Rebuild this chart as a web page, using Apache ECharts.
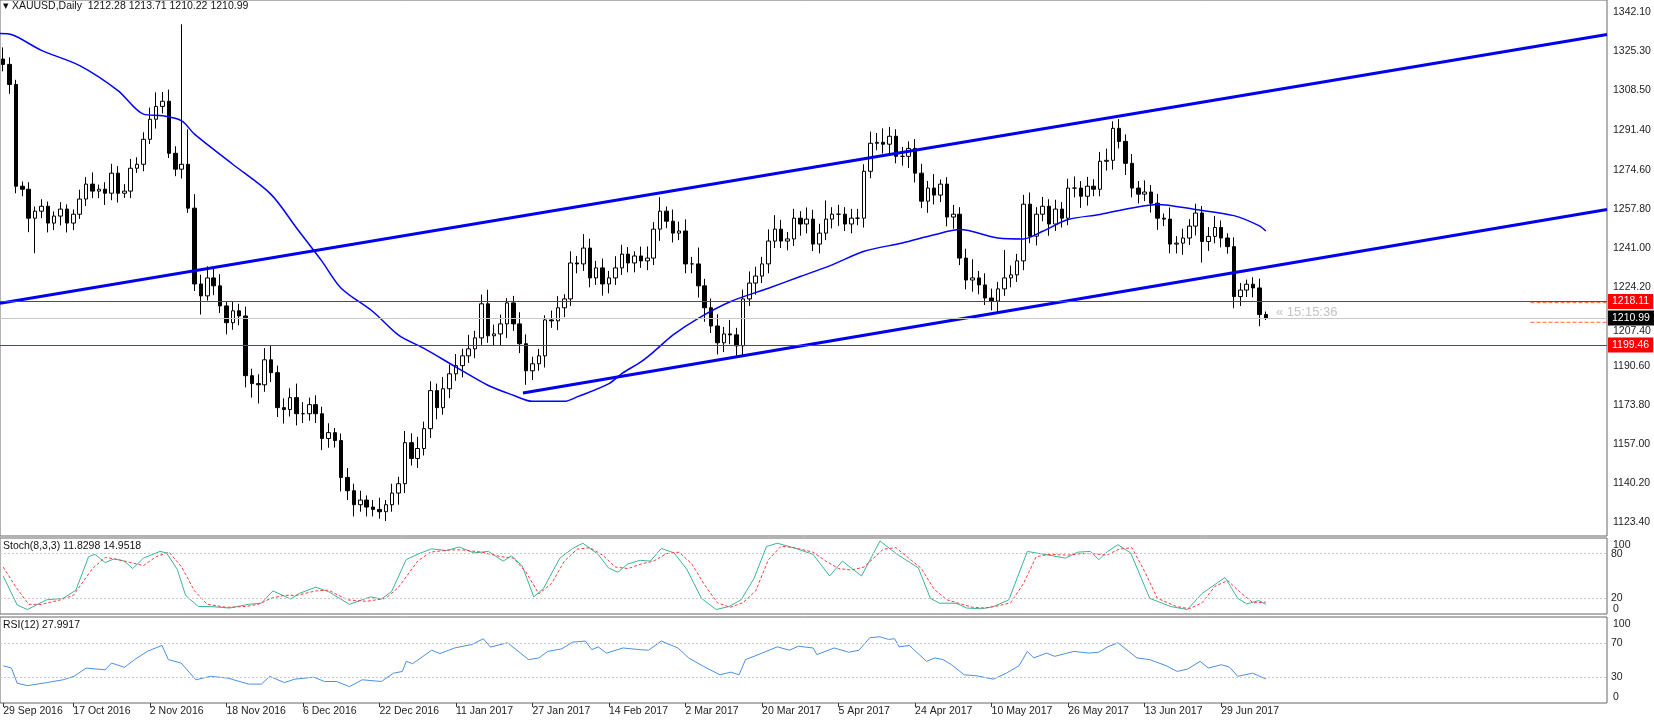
<!DOCTYPE html>
<html>
<head>
<meta charset="utf-8">
<script src="https://cdn.jsdelivr.net/npm/echarts@6/dist/echarts.min.js"></script>
<style>
  html, body { margin: 0; padding: 0; background: #fff; }
  #chart { width: 1654px; height: 720px; }
</style>
</head>
<body>
<div id="chart"></div>
<script>
// daily closes, XAUUSD (first bar opened at 1322)
const firstOpen = 1322;
const closes = [
  1319.7,1311.1,1267.5,1266.2,1253.8,1256.8,1258.9,1251.7,1254.7,1257.7,
  1251.7,1255.5,1262.0,1268.4,1265.4,1266.2,1264.5,1273.1,1264.5,1265.4,
  1275.2,1276.9,1287.6,1296.2,1301.7,1303.9,1281.6,1274.8,1276.9,1258.1,
  1225.6,1220.5,1228.2,1224.8,1216.2,1209.0,1214.1,1211.9,1186.3,1182.9,
  1182.4,1193.1,1187.6,1172.6,1171.8,1176.9,1170.0,1170.0,
  1173.9,1170.0,1159.4,1161.9,1158.5,1142.7,1137,1131,1133,1130,
  1129,1128,1131,1136,1140,1157.6,1150.8,1155.1,1163.6,1179.9,
  1172.6,1180.7,1187.1,1190.6,1194.8,1197.8,1202.5,1217.1,1203.4,1204.2,
  1208.5,1217.5,1208.5,1200.0,1188.4,1191.4,1194.8,1210.2,1209.8,1215.4,
  1219.2,1234.6,1234.2,1241.0,1228.2,1232.5,1225.6,
  1228.2,1232.5,1238.4,1234.6,1237.6,1235.5,1236.7,1249.1,1256.8,1252.5,
  1247.4,1248.3,1234.2,1234.2,1224.8,1215.4,1207.6,1200.4,1204.2,1203.8,
  1199.1,1219.2,1226.0,1229.0,1234.2,1244.0,1249.1,1244.0,1244.9,1253.8,
  1251.3,1253.4,1242.7,1247.4,1253.4,1255.5,1255.5,1251.3,1253.8,1253.8,
  1273.9,1285.9,1286.3,1285.5,1288.9,1280.3,1280.3,
  1283.7,1273.1,1261.1,1266.7,1263.7,1268.4,1254.3,1255.5,1236.7,1227.3,
  1228.2,1225.2,1219.6,1218.3,1223.5,1228.2,1229.5,1235.5,1259.8,1246.1,
  1255.5,1258.9,1251.3,1257.7,1253.8,1266.7,1266.7,1263.2,1267.5,1266.2,
  1278.2,1278.6,1292.3,1286.7,1277.3,1266.7,1264.1,1265.0,1260.2,1253.8,
  1253.4,1242.7,1243.1,1245.3,1250.4,1256.0,
  1243.8,1246.0,1249.8,1245.3,1241.6,1220.2,1223.0,1225.5,1223.9,1212.5,1210.99
];
// upper / lower shadow length above/below the body
const wickHi = [
  5,3,2,2,3,2,3,2,2,3, 2,2,4,3,5,2,3,4,3,3, 4,3,3,5,6,4,5,3,60,15,
  6,4,5,4,5,2,4,3,4,3, 4,5,6,3,4,4,6,5,3,4, 3,4,2,3,4,3,4,2,3,5,
  2,4,3,5,4,5,3,4,3,5, 4,5,3,6,3,4,6,4,4,2, 3,5,4,3,3,2,4,5,2,5,
  3,6,4,3,4,3,5,4,3,2, 4,5,3,6,2,5,4,5,3,7, 3,4,5,3,6,3,4,5,4,3,
  5,6,4,3,4,3,5,4,4,8, 3,4,3,4,4,3,5,4,6,4, 3,4,3,4,4,3,6,2,3,4,
  3,4,8,3,5,4,3,12,4,3, 4,5,3,4,3,4,3,4,5,3, 4,3,4,5,3,4,3,4,3,5,
  3,4,2,5,3,4,3,4,3,4, 5,3,2,4,3,2,3,4,1.3
];
const wickLo = [
  3,4,3,3,6,15,3,4,3,4, 4,3,2,3,3,3,5,3,4,2, 3,2,3,2,4,3,2,3,4,2,
  3,8,2,4,3,5,3,4,5,6, 8,3,4,4,6,3,5,4,3,4, 5,4,3,6,4,5,3,4,3,3,
  4,3,5,4,3,4,3,4,5,3, 4,3,5,3,4,3,3,4,5,6, 3,4,6,4,3,5,3,4,4,3,
  4,3,4,3,5,4,3,3,4,4, 3,4,3,5,3,4,3,4,4,5, 6,3,5,4,4,5,4,3,5,3,
  4,3,3,4,3,5,4,3,4,3, 4,5,3,4,3,4,3,3,4,5, 3,4,5,4,3,5,4,3,4,5,
  3,4,5,4,3,4,5,3,4,3, 4,3,4,3,5,3,4,3,4,5, 4,3,3,4,4,3,5,4,4,3,
  4,5,3,4,4,5,3,4,9,4, 3,4,3,5,4,3,4,5,0.8
];
// moving average [bar index, value]
const maPts = [
  [-0.5,1332.9],[1.4,1332.4],[6,1325.7],[12,1319.2],[18,1308.5],[22,1298.4],[25,1297.7],
  [28,1295.5],[30,1289.8],[36,1276.9],[42,1264],[46,1249.6],[50,1235.3],[53,1223.8],
  [58,1213.7],[62,1203.7],[66,1198],[71,1190],[76,1182.2],[80,1177.9],[83,1175.3],
  [88,1175.3],[90,1177.2],[95,1182.9],[97,1187.2],[100,1192.2],[102,1196.5],[105,1203.7],
  [109,1210.9],[114,1218],[120,1223.8],[125,1228.8],[130,1233.8],[135,1239.6],[141,1243.2],
  [146,1246.7],[150,1248.9],[156,1245.3],[160,1244.9],[163,1248.2],[167,1253.2],[172,1255.4],
  [177,1258.2],[181,1259.7],[187,1257.5],[193,1254.9],[197,1250.5],[198,1248.3]
];
const upperTrend = [[-0.5,1217.3],[251.5,1332.5]];
const lowerTrend = [[81.5,1178.9],[251.5,1257.5]];
const redLevels = [1218.11, 1199.46];
const lastPrice = 1210.99;
const priceTicks = [1342.10,1325.30,1308.50,1291.40,1274.60,1257.80,1241.00,1224.20,1207.40,1190.60,1173.80,1157.00,1140.20,1123.40];
// stochastic %K and %D [bar index, value]
const stochK = [
  [0,50],[2.2,11],[3.8,5],[6.8,18],[9.4,20],[11.4,31],[13.4,76],[14.4,79],[16,68],[17.4,73],
  [19,70],[20.3,60],[22,74],[24.6,83],[25.6,81],[27.3,59],[28.6,24],[30.6,9],[32.5,9],[35.5,7],
  [38.5,12],[40.5,13.5],[42.3,30],[45.1,19],[46.4,26.5],[49,35],[51,29],[54.3,12],[57.6,22],[59.3,19],
  [60.9,29],[63.2,72],[65.2,80],[67.2,86.5],[69.5,84],[71.5,89],[73.8,81],[76.1,83],[78.4,70],[79.7,77],
  [81.4,63.5],[83.2,22],[84.7,33],[87.3,74],[89.3,87],[90.9,94],[93.3,79],[94.9,61],[96.4,55],[97.9,66],
  [99.9,71],[101.5,70],[103.2,87],[105.2,81],[107.2,59],[109.5,20],[111.8,5],[113.8,9],[115.7,18],[117.7,46],
  [119.7,89.6],[121.4,94],[124.3,87],[127,79],[129.6,50],[131.6,70],[134.6,50],[137.5,97],[140.2,79],[143.5,61],
  [145.4,20],[146.8,13.5],[149.4,13.5],[151.1,7],[153.4,6],[155.3,9],[157.7,18],[160.6,83],[163.3,79],[166.6,74],
  [168.5,82],[170.5,83],[171.8,72],[173.2,83],[174.8,92],[176.8,81],[179.8,20],[183.1,9],[185.7,5],[188,26.5],
  [191.6,48],[193.6,20],[195,12.6],[196.9,17],[198,11.83]
];
const stochD = [
  [0,62],[2,35],[4,12],[6,12],[9,18],[11,24],[14,60],[16,75],[18,72],[20,68],[22,64],[24,76],[26,82],
  [28,62],[30,30],[32,12],[35,8],[38,9],[40,12],[42,20],[44,24],[46,24],[49,30],[51,31],[54,18],[57,16],
  [60,20],[62,35],[65,70],[67,82],[70,85],[72,85],[75,82],[78,76],[80,74],[82,55],[84,26],[86,40],[88,70],
  [90,86],[92,88],[94,78],[96,62],[98,60],[100,66],[102,70],[104,80],[106,82],[108,66],[110,38],[112,14],
  [114,8],[116,14],[118,30],[120,72],[122,90],[124,88],[127,82],[129,70],[131,60],[133,58],[135,62],[138,86],
  [140,88],[142,74],[144,60],[146,32],[148,18],[150,13],[152,8],[154,7],[156,10],[158,14],[160,40],[162,76],
  [164,79],[167,78],[169,80],[171,80],[173,78],[175,86],[177,88],[179,56],[181,20],[184,9],[186,6],[188,14],
  [190,36],[192,44],[194,28],[196,14],[198,14.95]
];
// RSI(12) [bar index, value]
const rsi = [
  [0,43.3],[1.3,40.6],[2.2,23],[3.8,20.2],[6.8,23.7],[9.4,27],[11.1,31],[13,40.6],[16,38.6],[17,46.5],
  [19,41.4],[20.6,50.4],[22.6,60],[24.9,67],[25.9,50.4],[27.9,46.5],[30.2,27],[32.5,31],[35.2,29],[38.5,22],
  [40.5,22],[41.8,31],[44.1,23.7],[45.7,27.7],[48.7,30],[50.4,25],[52.3,25],[54.3,19],[56.3,27],[59.3,25],
  [61.2,34.7],[62.6,36.7],[63.2,48.4],[64.2,45.7],[67.2,61.4],[68.5,57.5],[70.8,64],[73.5,68],[75.3,74.7],[76.4,65],
  [79.1,70],[82.4,50.4],[84,52.4],[85.4,60],[87.6,63],[89.3,70.8],[91.3,72],[92.3,62],[93.3,65.3],[94.6,58],
  [97.2,64],[99.9,62],[101.2,61.4],[103.2,72],[105.8,64],[107.5,52.4],[109.8,42.6],[112.4,32.8],[114.1,35.9],[115.4,32.8],
  [116.4,50.4],[119,58],[121.4,65.3],[123.3,61.4],[124.7,66],[127,64],[127.6,56.3],[130.3,64],[132.6,59],[134.2,61.4],
  [135.9,75.9],[137.5,77],[138.8,74],[139.8,74.7],[140.5,65.3],[142.1,66.9],[144.8,48.4],[146.1,52.4],[147.4,50.4],[148.7,44.5],
  [150.7,32.8],[152.7,31.6],[155.3,27.7],[157.3,34.7],[159.3,43.3],[160.6,60],[161.6,52.4],[163.6,58],[164.9,54.3],[166.6,57.5],
  [167.9,60],[170.2,58],[171.8,59],[173.2,65.3],[174.8,70],[177.8,52.4],[179.8,50.4],[182.4,43.3],[184.1,36.7],[185.7,39.4],
  [187.7,48.4],[189,40.6],[191,44.5],[192.3,41.8],[193.6,31],[195.9,34.7],[198,27.99]
];
const dateLabels = ['29 Sep 2016','17 Oct 2016','2 Nov 2016','18 Nov 2016','6 Dec 2016','22 Dec 2016','11 Jan 2017','27 Jan 2017','14 Feb 2017','2 Mar 2017','20 Mar 2017','5 Apr 2017','24 Apr 2017','10 May 2017','26 May 2017','13 Jun 2017','29 Jun 2017'];
const dateIdx = [0,11,23,35,47,59,71,83,95,107,119,131,143,155,167,179,191];
const slots = 252;

const chart = echarts.init(document.getElementById('chart'));
const font = 'Liberation Sans, Arial, sans-serif';
const clear = 'rgba(0,0,0,0)';

const cats = new Array(slots).fill('');
dateIdx.forEach((k, j) => { cats[k] = dateLabels[j]; });

const candles = closes.map((c, i) => {
    const o = i === 0 ? firstOpen : closes[i - 1];
    return [o, c, Math.min(o, c) - wickLo[i], Math.max(o, c) + wickHi[i]];
});

const grids = [
    { left: 0, width: 1607, top: 0, height: 536 },
    { left: 0, width: 1607, top: 538, height: 76 },
    { left: 0, width: 1607, top: 617, height: 86 }
];
grids.forEach(g => { g.show = true; g.borderColor = '#666'; g.borderWidth = 1; });

const hidden = { axisLine: { show: false }, axisTick: { show: false }, axisLabel: { show: false }, splitLine: { show: false } };
const valX = (gi) => Object.assign({ type: 'value', gridIndex: gi, min: -0.5, max: slots - 0.5 }, hidden);

// right-hand scale labels drawn as invisible level lines
const tickLine = (v, txt, off) => ({
    yAxis: v,
    lineStyle: { color: clear, width: 0 },
    label: { show: true, formatter: txt, position: 'end', distance: 6, color: '#222', fontFamily: font, fontSize: 10.5, offset: off || [0, 0] }
});
const levelLine = (v) => ({
    yAxis: v,
    lineStyle: { color: '#c8c8c8', type: [2, 2], width: 1 },
    label: { show: true, formatter: String(v), position: 'end', distance: 4, color: '#222', fontFamily: font, fontSize: 10.5 }
});

const option = {
    animation: false,
    grid: grids,
    xAxis: [
        Object.assign({ type: 'category', gridIndex: 0, data: cats, boundaryGap: true }, hidden),
        valX(0), valX(1), valX(2),
        {
            type: 'category', gridIndex: 2, data: cats, boundaryGap: true, position: 'bottom',
            axisLine: { show: false },
            axisTick: { show: true, interval: (i, v) => v !== '', length: 4, lineStyle: { color: '#333' }, alignWithLabel: true },
            axisLabel: { interval: (i, v) => v !== '', align: 'left', margin: 3, color: '#222', fontFamily: font, fontSize: 10.5 },
            splitLine: { show: false }
        }
    ],
    yAxis: [
        Object.assign({ type: 'value', gridIndex: 0, min: 1117.6, max: 1347.3 }, hidden),
        Object.assign({ type: 'value', gridIndex: 1, min: -1, max: 101 }, hidden),
        Object.assign({ type: 'value', gridIndex: 2, min: 0, max: 100 }, hidden)
    ],
    graphic: [
        { type: 'text', left: 3, top: 1, style: { text: '\u25BE XAUUSD,Daily  1212.28 1213.71 1210.22 1210.99', fill: '#111', font: '10.5px ' + font } },
        { type: 'text', left: 3, top: 541, style: { text: 'Stoch(8,3,3) 11.8298 14.9518', fill: '#111', font: '10.5px ' + font } },
        { type: 'text', left: 3, top: 620, style: { text: 'RSI(12) 27.9917', fill: '#111', font: '10.5px ' + font } },
        { type: 'text', left: 1276, top: 306, style: { text: '\u00AB 15:15:36', fill: '#c4c4c4', font: '13px ' + font } }
    ],
    series: [
        {
            type: 'candlestick', xAxisIndex: 0, yAxisIndex: 0, data: candles, barWidth: 4,
            itemStyle: { color: '#fff', color0: '#000', borderColor: '#000', borderColor0: '#000', borderWidth: 1 },
            markLine: {
                symbol: 'none', silent: true, animation: false,
                data: [
                    { yAxis: lastPrice, lineStyle: { color: '#c8c8c8', width: 1, type: 'solid' },
                      label: { position: 'end', distance: 1, formatter: lastPrice.toFixed(2), color: '#fff', backgroundColor: '#000', padding: [2, 4], fontFamily: font, fontSize: 10.5 } }
                ].concat(redLevels.map(v => ({
                    yAxis: v, lineStyle: { color: '#ff0000', width: 1.2, type: 'solid' },
                    label: { position: 'end', distance: 1, formatter: v.toFixed(2), color: '#fff', backgroundColor: '#ff0000', padding: [2, 4], fontFamily: font, fontSize: 10.5 }
                })))
            }
        },
        {
            type: 'line', xAxisIndex: 1, yAxisIndex: 0, data: maPts, smooth: 0.3, showSymbol: false,
            lineStyle: { color: '#0000ff', width: 1.5 }
        },
        {
            type: 'line', xAxisIndex: 1, yAxisIndex: 0, data: upperTrend, showSymbol: false,
            lineStyle: { color: '#0000ee', width: 3 },
            markLine: { symbol: 'none', silent: true, data: priceTicks.map(v => tickLine(v, v.toFixed(2), v === 1207.40 ? [0, 5] : null)) }
        },
        {
            type: 'line', xAxisIndex: 1, yAxisIndex: 0, data: lowerTrend, showSymbol: false,
            lineStyle: { color: '#0000ee', width: 3 }
        },
        {
            type: 'line', xAxisIndex: 1, yAxisIndex: 0, data: [[239.5, 1217.6], [251.4, 1217.6]], showSymbol: false,
            lineStyle: { color: '#ff6a2a', width: 1, type: 'dashed' }
        },
        {
            type: 'line', xAxisIndex: 1, yAxisIndex: 0, data: [[239.5, 1209.2], [251.4, 1209.2]], showSymbol: false,
            lineStyle: { color: '#ff6a2a', width: 1, type: 'dashed' }
        },
        {
            type: 'line', xAxisIndex: 2, yAxisIndex: 1, data: stochK, showSymbol: false,
            lineStyle: { color: '#3cb39a', width: 1 },
            markLine: {
                symbol: 'none', silent: true,
                data: [levelLine(80), levelLine(20), tickLine(100, '100', [0, 6]), tickLine(0, '0', [0, -4])]
            }
        },
        {
            type: 'line', xAxisIndex: 2, yAxisIndex: 1, data: stochD, showSymbol: false,
            lineStyle: { color: '#ff3b3b', width: 1, type: [3, 2] }
        },
        {
            type: 'line', xAxisIndex: 3, yAxisIndex: 2, data: rsi, showSymbol: false,
            lineStyle: { color: '#4a90e2', width: 1 },
            markLine: {
                symbol: 'none', silent: true,
                data: [levelLine(70), levelLine(30), tickLine(100, '100', [0, 7]), tickLine(0, '0', [0, -6])]
            }
        }
    ]
};

chart.setOption(option);
window.addEventListener('resize', () => chart.resize());
</script>
</body>
</html>
